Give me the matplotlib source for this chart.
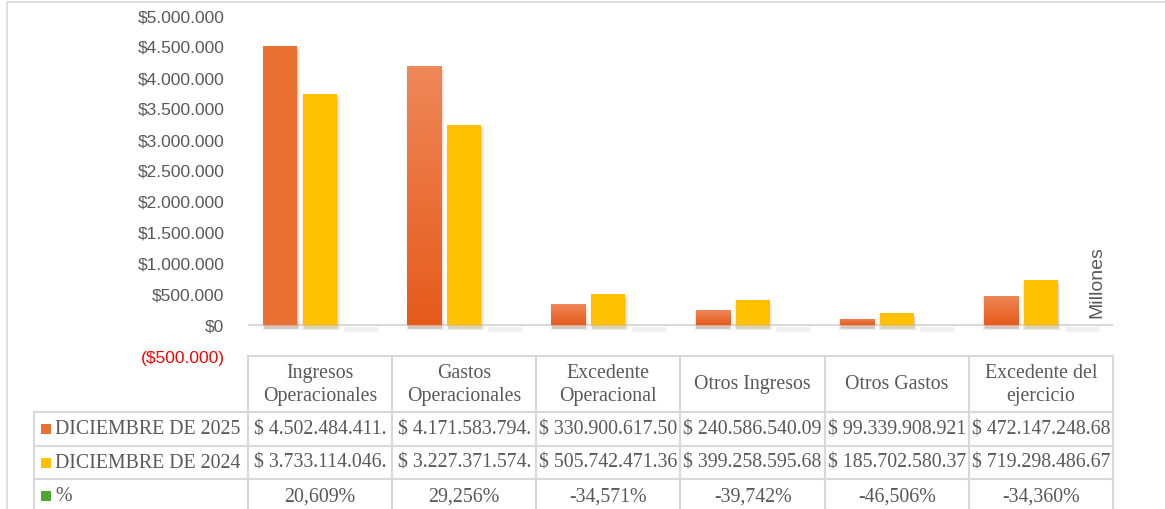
import numpy as np
import matplotlib
matplotlib.use('Agg')
import matplotlib.pyplot as plt
import matplotlib.patheffects as pe
from matplotlib.colors import LinearSegmentedColormap
from matplotlib.lines import Line2D
from matplotlib.patches import Rectangle

W, H = 1165, 510

CATEGORIES = ['Ingresos\nOperacionales', 'Gastos\nOperacionales', 'Excedente\nOperacional',
              'Otros Ingresos', 'Otros Gastos', 'Excedente del\nejercicio']
SERIES = ['DICIEMBRE DE 2025', 'DICIEMBRE DE 2024', '%']

# values in millions
DIC_2025 = [4502.484411, 4171.583794, 330.90061750, 240.58654009, 99.339908921, 472.14724868]
DIC_2024 = [3733.114046, 3227.371574, 505.74247136, 399.25859568, 185.70258037, 719.29848667]
PCT = [20.609, 29.256, -34.571, -39.742, -46.506, -34.360]

TABLE_2025 = ['$ 4.502.484.411.', '$ 4.171.583.794.', '$ 330.900.617.50',
              '$ 240.586.540.09', '$ 99.339.908.921', '$ 472.147.248.68']
TABLE_2024 = ['$ 3.733.114.046.', '$ 3.227.371.574.', '$ 505.742.471.36',
              '$ 399.258.595.68', '$ 185.702.580.37', '$ 719.298.486.67']
TABLE_PCT = ['20,609%', '29,256%', '-34,571%', '-39,742%', '-46,506%', '-34,360%']

Y_TICKS = [-500, 0, 500, 1000, 1500, 2000, 2500, 3000, 3500, 4000, 4500, 5000]

ORANGE = '#e97132'
YELLOW = '#ffc000'
GREEN = '#4ea72e'
GRID = '#d9d9d9'
TEXT = '#595959'
SERIF = 'Liberation Serif'
SANS = 'Liberation Sans'


def fx(px):
    return px / W


def fy(py):
    return 1 - py / H


def money(v):
    s = f'{abs(v) * 1000:,.0f}'.replace(',', '.')
    return f'(${s})' if v < 0 else f'${s}'


fig = plt.figure(figsize=(W / 100, H / 100), dpi=100)

# outer chart border
fig.add_artist(Rectangle((fx(7), fy(530)), fx(1180), fy(3) - fy(530),
                         transform=fig.transFigure, fill=False, ec=GRID, lw=1.2))

plot_left, plot_right, plot_top, plot_bottom = 248, 1113, 16, 357
ax = fig.add_axes([fx(plot_left), fy(plot_bottom), fx(plot_right - plot_left),
                   fy(plot_top) - fy(plot_bottom)])

x = np.arange(len(CATEGORIES))
bw = 0.236
off = 0.277

shadow = [pe.SimplePatchShadow(offset=(0.6, -2.8), shadow_rgbFace='#9a9a9a', alpha=0.3),
          pe.Stroke(offset=(0.3, -2.5), linewidth=2.5, foreground='#bfbfbf', alpha=0.25),
          pe.Normal()]
flat_shadow = [pe.Stroke(offset=(0.5, -3.0), linewidth=3.5, foreground='#d6d6d6', alpha=0.35)]

b1 = ax.bar(x - off, DIC_2025, bw, color=ORANGE, zorder=3)
b2 = ax.bar(x, DIC_2024, bw, color=YELLOW, zorder=3)
b3 = ax.bar(x + off, [p / 100 for p in PCT], bw, color=GREEN, lw=0, zorder=3)
for b in list(b1) + list(b2):
    b.set_path_effects(shadow)
for b in b3:
    b.set_path_effects(flat_shadow)

# soft vertical gradient on orange bars (as in the original rendering)
grad_cmap = LinearSegmentedColormap.from_list('og', ['#e55b1a', '#ef8759'])
grad = np.linspace(0, 1, 100).reshape(-1, 1)
for b in list(b1)[1:]:
    x0, y0 = b.get_x(), b.get_y()
    im = ax.imshow(grad, extent=[x0, x0 + b.get_width(), y0, y0 + b.get_height()],
                   origin='lower', cmap=grad_cmap, aspect='auto', zorder=3.5)
    im.set_clip_path(b)

ax.set_xlim(-0.5, len(CATEGORIES) - 0.5)
ax.set_ylim(-500, 5000)
ax.axhline(0, color=GRID, lw=1.5, zorder=2)
for s in ax.spines.values():
    s.set_visible(False)
ax.set_xticks([])
ax.set_yticks(Y_TICKS)
ax.set_yticklabels([money(v) for v in Y_TICKS], fontfamily=SANS, fontsize=12.5, color=TEXT)
for lab, v in zip(ax.get_yticklabels(), Y_TICKS):
    if v < 0:
        lab.set_color('#ff0000')
ax.tick_params(axis='y', length=0, pad=17)

# display units label
ax.text(5.39, 125, 'Millones', rotation=90, fontfamily=SANS, fontsize=14,
        color=TEXT, ha='center', va='bottom')

# data table below the plot
col_edges = [plot_left + i * (plot_right - plot_left) / len(CATEGORIES)
             for i in range(len(CATEGORIES) + 1)]
row_edges = [357, 413, 447, 480, 514]
label_left = 34


def hline(py, x0, x1):
    fig.add_artist(Line2D([fx(x0), fx(x1)], [fy(py), fy(py)], color=GRID, lw=1.5))


def vline(px, y0, y1):
    fig.add_artist(Line2D([fx(px), fx(px)], [fy(y0), fy(y1)], color=GRID, lw=1.5))


hline(row_edges[0], plot_left, plot_right)
for py in row_edges[1:4]:
    hline(py, label_left, plot_right)
for px in col_edges:
    vline(px, row_edges[0], row_edges[-1])
vline(label_left, row_edges[1], row_edges[-1])

for i, cat in enumerate(CATEGORIES):
    cx = (col_edges[i] + col_edges[i + 1]) / 2
    fig.text(fx(cx), fy((row_edges[0] + row_edges[1]) / 2), cat, ha='center', va='center',
             fontfamily=SERIF, fontsize=14.3, color=TEXT, linespacing=1.3)

rows = [TABLE_2025, TABLE_2024, TABLE_PCT]
key_colors = [ORANGE, YELLOW, GREEN]
for r, (name, vals, kc) in enumerate(zip(SERIES, rows, key_colors)):
    cy = (row_edges[r + 1] + row_edges[r + 2]) / 2
    fig.add_artist(Rectangle((fx(41), fy(cy + 5)), fx(10), fy(cy - 5) - fy(cy + 5),
                             transform=fig.transFigure, color=kc, lw=0))
    fig.text(fx(55), fy(cy), name, ha='left', va='center',
             fontfamily=SERIF, fontsize=14.3, color=TEXT)
    for i, v in enumerate(vals):
        cx = (col_edges[i] + col_edges[i + 1]) / 2
        fig.text(fx(cx), fy(cy), v, ha='center', va='center',
                 fontfamily=SERIF, fontsize=14.3, color=TEXT)

fig.savefig('out.png', dpi=100)
